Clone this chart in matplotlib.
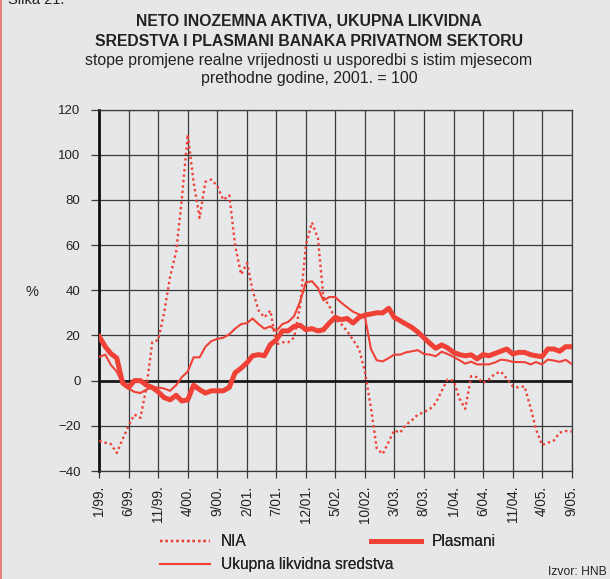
import numpy as np
import pandas as pd
import matplotlib
matplotlib.use("Agg")
import matplotlib.pyplot as plt
from matplotlib.lines import Line2D

plt.rcParams['font.family'] = ['Liberation Sans', 'DejaVu Sans']

# ---- data, monthly 1/1999 - 9/2005 ----
months = pd.date_range("1999-01-01", "2005-09-01", freq="MS")

nia = [-26.6, -27.5, -28, -32, -26, -20, -15, -16.5, -3, 17,
       18, 30, 46, 57, 80, 109, 88, 72, 88, 89,
       86, 80, 82, 60, 47, 52, 40, 31, 28, 31,
       16, 17, 17, 19, 33, 60, 70, 63, 37, 33,
       27, 25, 22, 18, 14, 4, -12, -30, -32.5, -27,
       -22, -23, -19.5, -17.5, -15, -14, -12.5, -10, -4.5, 0.5,
       0, -8, -12.5, 2, 1.5, -1, 0.5, 3, 4, 1,
       -2.5, -3, -2.5, -12, -21.5, -28.5, -27.5, -26.5, -23, -22.3,
       -22.5]

plasmani = [19.5, 15, 12, 10, -1, -3, 0, 0, -2, -3,
            -5, -7.5, -8.5, -6.5, -9, -8.5, -2, -4, -5.5, -4.5,
            -4.5, -4.5, -3, 3.5, 5.5, 8, 11, 11.5, 11, 16,
            18, 22, 22, 24, 24.5, 22.5, 23, 22, 22.5, 25.5,
            28, 27, 27.5, 25.5, 28, 29, 29.5, 30, 30, 32,
            28, 26.5, 25, 23.5, 21.5, 19, 16.5, 14.3, 15.8, 14.5,
            12.5, 11.5, 11, 11.4, 9.6, 11.5, 11, 12, 13, 14,
            11.8, 12.5, 12.5, 11.5, 11, 10.6, 14, 14, 13, 15,
            15]

ukupna = [10.5, 11.5, 7, 4, -1.5, -3.5, -5, -5.5, -4, -3,
          -3, -3.5, -4.5, -2, 1.5, 4, 10.3, 10.3, 15, 17.5,
          18.5, 19, 20.5, 23, 25, 25.5, 27.5, 25, 23, 24,
          22, 25, 26, 28.5, 35, 43.5, 44, 41, 35.5, 37,
          37, 34.5, 32.5, 30.5, 29.3, 28.5, 14, 9, 8.5, 10,
          11.5, 11.5, 12.5, 13, 13.5, 11.8, 11.5, 10.8, 12.8, 11.8,
          10.5, 9, 7.5, 8.4, 7.2, 7.2, 7.2, 8, 9.3, 9,
          8.3, 8.2, 8.2, 7.2, 8.2, 7.2, 9.3, 8.9, 8.3, 9.2,
          7.4]

series_labels = ["NIA", "Ukupna likvidna sredstva", "Plasmani"]
tick_step = 5
y_ticks = [-40, -20, 0, 20, 40, 60, 80, 100, 120]

# ---- styling ----
bg = "#e6e7e9"
red = "#ef4136"
grid_c = "#3a3a3a"
txt_c = "#222222"
W, H = 610, 579

fig = plt.figure(figsize=(6.1, 5.79), dpi=100, facecolor=bg)
ax = fig.add_axes([99.3 / W, 1 - 471 / H, 472.4 / W, 361.5 / H], facecolor=bg)

nia_style = dict(color=red, lw=1.7, linestyle=(0, (1, 1.3)), dash_capstyle="butt")
l_nia, = ax.plot(months, nia, zorder=3, **nia_style)
l_uk, = ax.plot(months, ukupna, color=red, lw=1.5, zorder=4)
l_pl, = ax.plot(months, plasmani, color=red, lw=3.6, zorder=5)

ax.set_xlim(months[0], months[-1])
ax.set_ylim(-40, 120)
ax.set_yticks(y_ticks)
ax.set_yticklabels([("\u2212" + str(-v)) if v < 0 else str(v) for v in y_ticks])
xt = months[::tick_step]
ax.set_xticks(xt)
ax.set_xticklabels([f"{d.month}/{d.strftime('%y')}." for d in xt], rotation=90)

ax.grid(True, color=grid_c, lw=0.9, zorder=1)
ax.axhline(0, color="#1a1a1a", lw=2.0, zorder=2)
ax.tick_params(axis="y", length=5.5, width=0.9, color=grid_c,
               labelsize=9.5, labelcolor=txt_c, pad=8)
ax.tick_params(axis="x", length=5, width=0.9, color=grid_c,
               labelsize=9.8, labelcolor=txt_c, pad=5.5)
for s in ["top", "right", "bottom"]:
    ax.spines[s].set_color(grid_c)
    ax.spines[s].set_linewidth(0.9)
ax.spines["left"].set_color("#111111")
ax.spines["left"].set_linewidth(2.0)

# ---- titles ----
cx = 309 / W
fig.text(cx, 1 - 21 / H, "NETO INOZEMNA AKTIVA, UKUPNA LIKVIDNA",
         ha="center", va="center", fontsize=11.3, fontweight="bold", color=txt_c)
fig.text(cx, 1 - 41 / H, "SREDSTVA I PLASMANI BANAKA PRIVATNOM SEKTORU",
         ha="center", va="center", fontsize=11.3, fontweight="bold", color=txt_c)
fig.text(cx, 1 - 60.5 / H, "stope promjene realne vrijednosti u usporedbi s istim mjesecom",
         ha="center", va="center", fontsize=11.45, color=txt_c)
fig.text(cx, 1 - 79 / H, "prethodne godine, 2001. = 100",
         ha="center", va="center", fontsize=11.45, color=txt_c)
fig.text(8 / W, 1 - 4 / H, "Slika 21.", ha="left", va="baseline",
         fontsize=10.5, color=txt_c)
fig.text(32 / W, 1 - 292 / H, "%", ha="center", va="center",
         fontsize=10.5, color=txt_c)
fig.text(607 / W, 1 - 572 / H, "Izvor: HNB", ha="right", va="center",
         fontsize=8.7, color=txt_c)

# ---- legend: one entry per legend, placed like the original ----
leg_kw = dict(loc="center left", frameon=False, fontsize=11.2, borderpad=0,
              handlelength=3.2, handletextpad=0.66, labelcolor=txt_c)
for handle, label, x0, y0 in [(l_nia, series_labels[0], 152.7, 542),
                              (l_uk, series_labels[1], 152.7, 565),
                              (l_pl, series_labels[2], 363.5, 542)]:
    fig.add_artist(fig.legend([handle], [label],
                              bbox_to_anchor=(x0 / W, 1 - y0 / H), **leg_kw))

# thin red frame edge on the left
fig.add_artist(Line2D([0.0015, 0.0015], [0, 1], color="#e8706a", lw=1.2,
                      transform=fig.transFigure))

fig.savefig("out.png", dpi=100, facecolor=bg)
